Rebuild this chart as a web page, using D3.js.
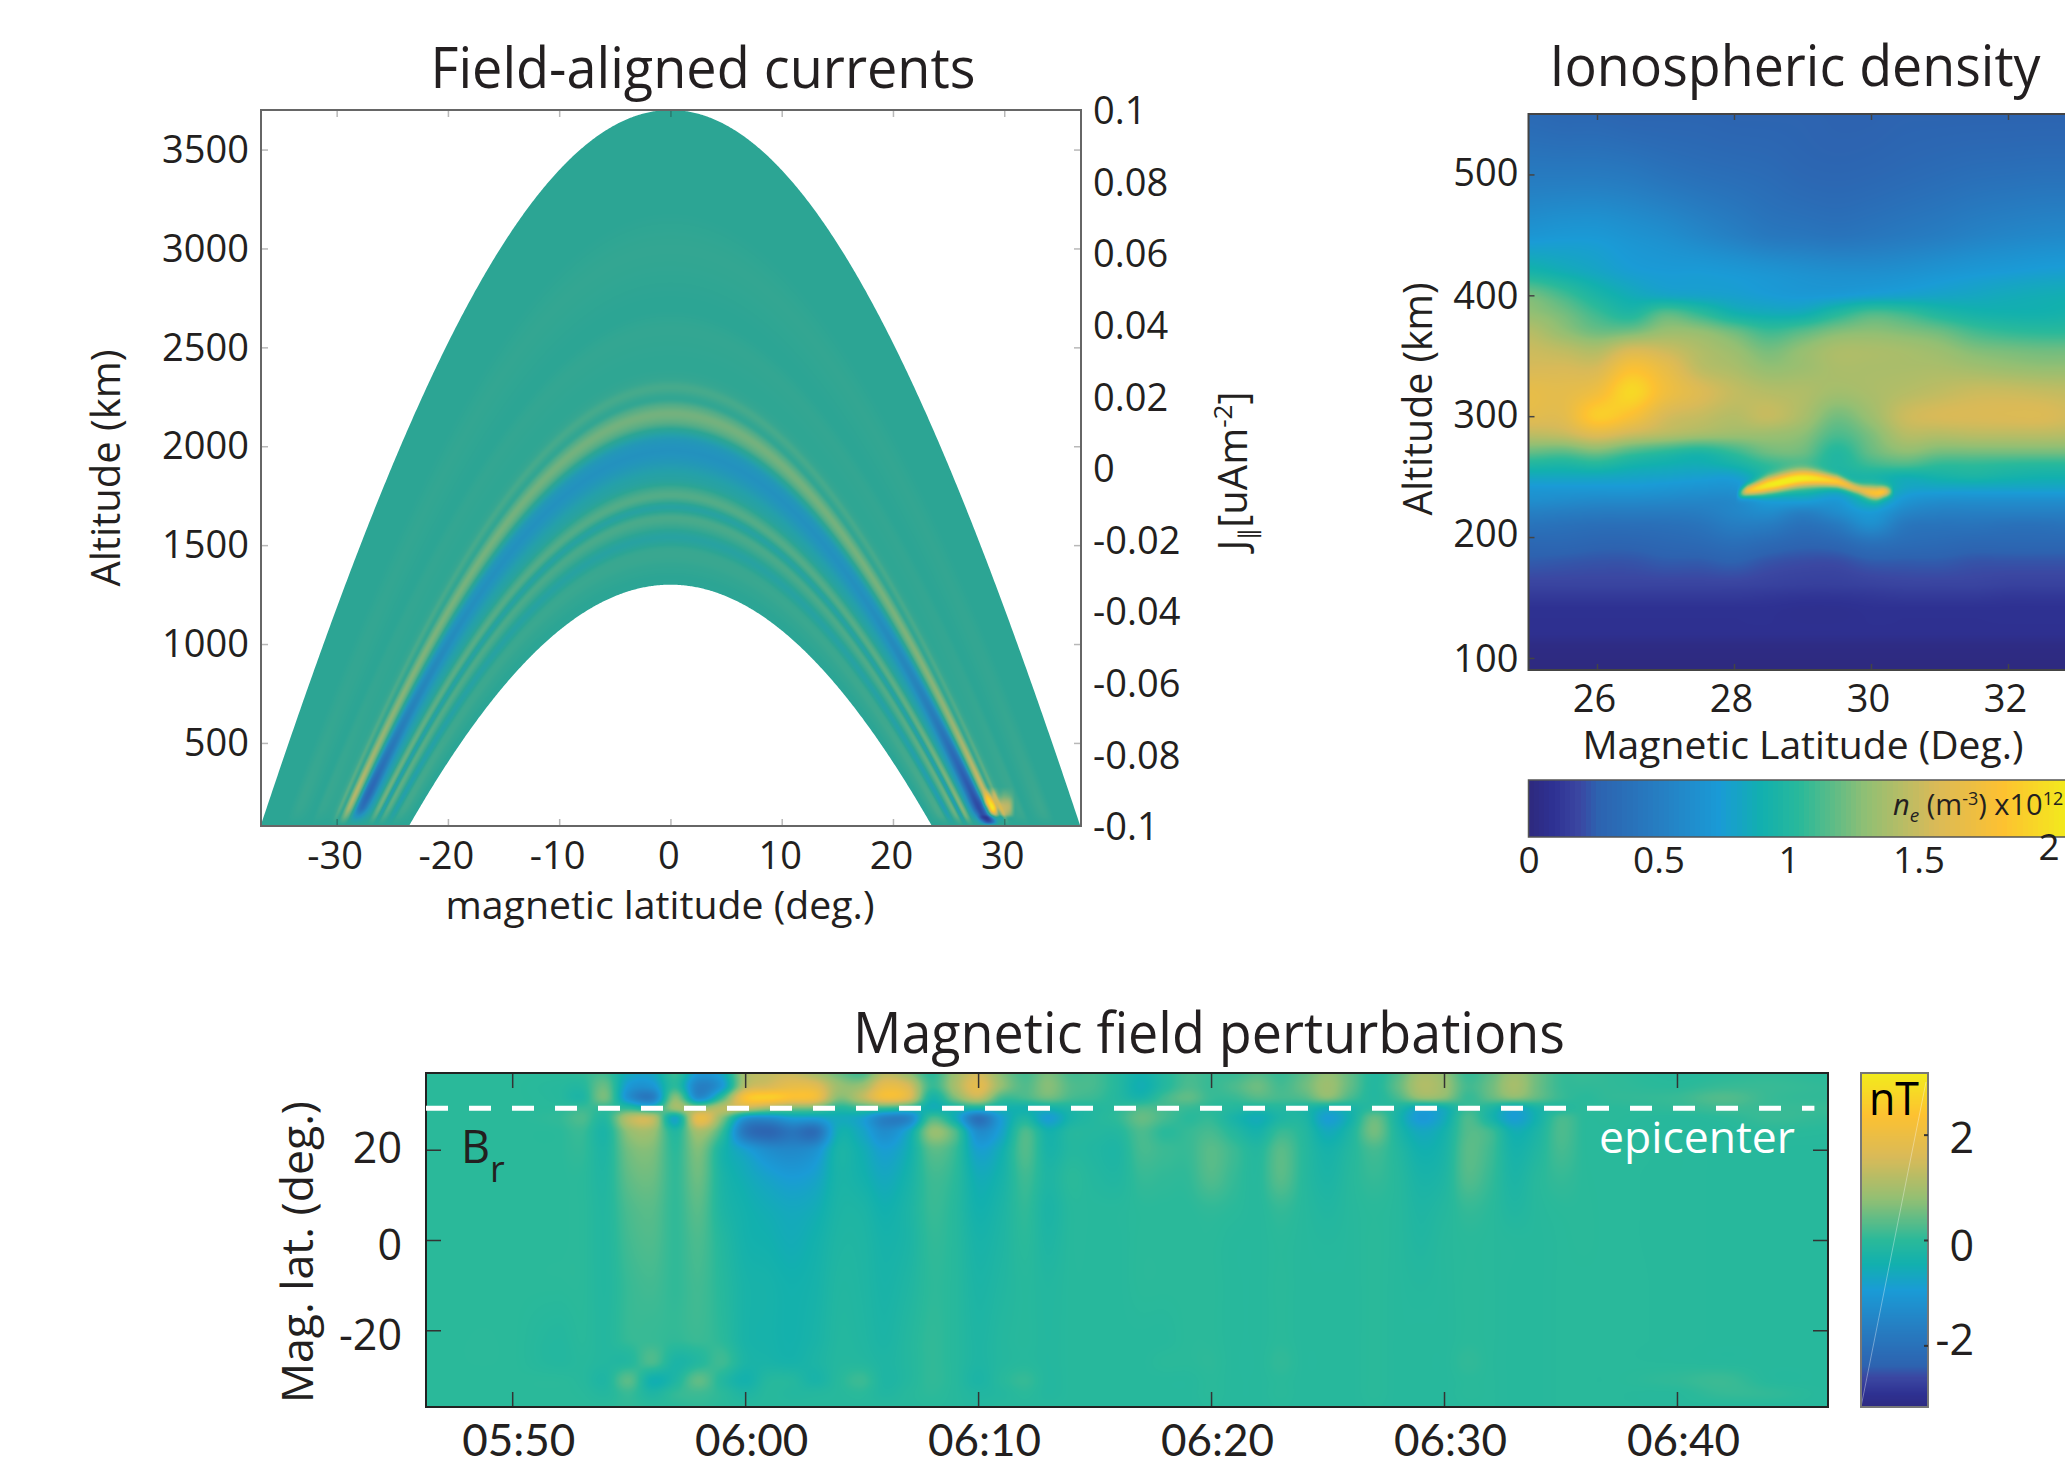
<!DOCTYPE html>
<html>
<head>
<meta charset="utf-8">
<title>Field-aligned currents, ionospheric density, magnetic field perturbations</title>
<script src="https://cdn.jsdelivr.net/npm/d3@7"></script>
<style>
  html, body { margin: 0; padding: 0; background: #fff; overflow: hidden; }
  svg { display: block; }
  text { font-family: "Open Sans", "Noto Sans", sans-serif; fill: #231f20; }
</style>
</head>
<body>
<div id="chart"></div>
<script>
// Field-aligned currents: J along each dipole field line, keyed by its apex height (km)
const jApex = [1300, 1400, 1450, 1490, 1540, 1585, 1636, 1665, 1692, 1722, 1752, 1790, 1830, 1864, 1910, 1960, 1995, 2040, 2080, 2120, 2165, 2205, 2240, 2298, 2340, 2400, 2600, 2700, 3000, 3200, 3700];
const jAtApex = [-0.001, 0.002, 0.004, 0.002, -0.009, 0.002, 0.009, 0.002, -0.009, 0.004, 0.012, 0.005, -0.008, -0.014, -0.024, -0.032, -0.032, -0.024, -0.004, 0.014, 0.022, 0.013, 0.002, 0.008, 0.003, 0.001, 0.002, 0, 0.002, 0, 0];
// how much stronger the bands get going down the field line
const gainAlt = [80, 100, 130, 170, 250, 400, 600, 800, 1200, 1700, 2400];
const gainNorth = [0.1, 0.6, 1.8, 2.3, 2.1, 1.8, 1.45, 1.25, 1.05, 1, 1];
const gainSouth = [0, 0.3, 1.0, 1.6, 1.8, 1.6, 1.35, 1.2, 1.05, 1, 1];
// the patch near the northern foot point (columns are latitude, rows are altitude)
const footLat = [27.5, 28, 28.5, 29, 29.5, 30, 30.5, 31];
const footAlt = [80, 100, 120, 140, 170, 200, 240, 280];
const footJ = [
  [0, 0, 0, 0, 0, 0, 0, 0],
  [0, -0.02, -0.03, -0.01, 0, 0, 0, 0],
  [0, -0.05, -0.05, -0.01, 0.01, 0.03, 0.02, 0],
  [0, -0.05, -0.05, 0, 0.05, 0.05, 0.03, 0],
  [0, -0.02, -0.03, 0.01, 0.035, 0.03, 0.01, 0],
  [0, 0, 0, 0.03, 0.04, 0.035, 0.015, 0],
  [0, 0, 0, 0.025, 0.035, 0.03, 0.01, 0],
  [0, 0, 0, 0, 0, 0, 0, 0]
];
const apexLimits = [1300, 3700];
const jAltTicks = [500, 1000, 1500, 2000, 2500, 3000, 3500];
const jLatTicks = [-30, -20, -10, 0, 10, 20, 30];
const jValueTicks = [0.1, 0.08, 0.06, 0.04, 0.02, 0, -0.02, -0.04, -0.06, -0.08, -0.1];

// Ionospheric density (10^12 m^-3), one row per altitude
const neLat = [25, 25.5, 26, 26.5, 27, 27.5, 28, 28.5, 29, 29.5, 30, 30.5, 31, 31.5, 32, 32.5, 33];
const neAlt = [550, 500, 450, 420, 400, 385, 370, 355, 340, 320, 300, 285, 270, 260, 250, 240, 230, 220, 210, 195, 180, 160, 150, 140, 120, 110, 90];
const neGrid = [
  [.32, .30, .30, .28, .28, .28, .27, .27, .27, .26, .26, .27, .27, .27, .27, .27, .27],
  [.46, .46, .46, .44, .40, .37, .35, .33, .30, .29, .30, .32, .34, .36, .37, .38, .38],
  [.68, .70, .70, .66, .62, .56, .50, .44, .42, .40, .42, .45, .48, .52, .55, .57, .58],
  [.92, .86, .80, .74, .72, .72, .70, .67, .64, .62, .62, .64, .67, .70, .72, .74, .75],
  [1.22, 1.10, .95, .85, .80, .78, .76, .73, .71, .72, .75, .77, .79, .81, .84, .86, .87],
  [1.30, 1.22, 1.08, .98, 1.15, 1.05, .90, .85, .86, 1.00, 1.12, 1.08, .98, .92, .90, .90, .92],
  [1.42, 1.30, 1.20, 1.22, 1.32, 1.30, 1.20, 1.08, 1.15, 1.25, 1.28, 1.25, 1.20, 1.10, 1.05, 1.03, 1.03],
  [1.50, 1.45, 1.40, 1.55, 1.50, 1.40, 1.32, 1.22, 1.30, 1.38, 1.38, 1.36, 1.32, 1.25, 1.22, 1.20, 1.20],
  [1.55, 1.55, 1.55, 1.78, 1.65, 1.45, 1.38, 1.30, 1.33, 1.38, 1.38, 1.38, 1.38, 1.35, 1.32, 1.30, 1.30],
  [1.65, 1.63, 1.72, 1.95, 1.72, 1.58, 1.47, 1.42, 1.40, 1.35, 1.38, 1.42, 1.46, 1.50, 1.50, 1.48, 1.46],
  [1.62, 1.62, 1.88, 1.78, 1.55, 1.48, 1.42, 1.48, 1.38, 1.22, 1.33, 1.50, 1.55, 1.56, 1.57, 1.57, 1.52],
  [1.45, 1.48, 1.60, 1.50, 1.42, 1.36, 1.33, 1.33, 1.28, 1.12, 1.24, 1.42, 1.42, 1.44, 1.44, 1.44, 1.42],
  [1.18, 1.15, 1.22, 1.10, 1.02, .96, 1.06, 1.20, 1.20, 1.00, 1.18, 1.28, 1.22, 1.22, 1.22, 1.22, 1.22],
  [.98, .96, 1.00, .92, .88, .86, .92, 1.05, 1.10, .98, 1.08, 1.12, 1.05, 1.05, 1.03, 1.02, 1.02],
  [.82, .82, .82, .80, .78, .76, .76, .95, 1.05, .95, .95, .88, .92, .95, .92, .90, .90],
  [.70, .70, .70, .70, .68, .66, .66, .80, .95, .85, 1.00, .80, .78, .78, .78, .78, .78],
  [.62, .60, .58, .58, .57, .56, .58, .72, .75, .70, .90, .68, .62, .62, .62, .62, .62],
  [.50, .48, .46, .46, .46, .48, .55, .60, .50, .60, .72, .55, .50, .50, .50, .50, .50],
  [.40, .38, .36, .36, .37, .40, .48, .47, .38, .45, .62, .43, .40, .40, .38, .38, .40],
  [.30, .30, .28, .28, .30, .32, .36, .32, .28, .30, .38, .34, .32, .30, .30, .30, .30],
  [.24, .23, .22, .22, .24, .24, .26, .22, .20, .20, .24, .24, .24, .22, .22, .22, .22],
  [.17, .17, .17, .17, .17, .17, .17, .16, .15, .15, .16, .17, .17, .17, .16, .16, .16],
  [.12, .12, .12, .12, .12, .12, .12, .11, .10, .10, .11, .12, .12, .12, .11, .11, .11],
  [.08, .08, .08, .08, .08, .08, .08, .08, .07, .07, .08, .08, .08, .08, .08, .08, .08],
  [.07, .07, .07, .07, .07, .07, .07, .07, .07, .07, .07, .07, .07, .07, .07, .07, .07],
  [.02, .02, .02, .02, .02, .02, .02, .02, .02, .02, .02, .02, .02, .02, .02, .02, .02],
  [0, 0, 0, 0, 0, 0, 0, 0, 0, 0, 0, 0, 0, 0, 0, 0, 0]
];
// the thin bright layer near 240 km is too narrow for the grid above
const wispLat = [28, 28.2, 28.5, 29, 29.5, 29.8, 30.05, 30.2, 30.4];
const wispAlt = [235, 238.5, 243, 248.5, 246, 240, 236.6, 237.5, 238];
const wispPeak = [0.5, 1.7, 2.05, 2.07, 1.85, 1.6, 1.8, 1.7, 0.5];
const wispThick = [3, 3.5, 4.8, 4.8, 3.5, 3, 3.8, 3.2, 2.5];
const neAltTicks = [100, 200, 300, 400, 500];
const neLatTicks = [26, 28, 30, 32];
const neBarTicks = [0, 0.5, 1, 1.5, 2];

// Magnetic field perturbations Br (nT). brMinutes counts from 05:50, one grid row per minute entry
const brLat = [37, 34, 31.5, 29.2, 27, 24, 20, 14, 7, 0, -10, -22, -27, -31, -34, -37];
const brMinutes = [-3.7, 0, 2, 3, 4, 5, 6, 7, 8, 9, 10, 11, 12, 13, 14, 15, 16, 17, 18, 19, 20, 21, 22, 23, 24, 25, 26, 27, 28, 29, 30, 31, 32, 33, 34, 35, 36, 37, 38, 39, 40, 41, 42, 43, 44, 45, 46, 47, 50, 52, 54, 56.5];
const brGrid = [
  [0, 0, 0, 0, 0, 0, 0, 0, 0, 0, 0, 0, 0, 0, 0, 0],
  [0, 0, 0, 0, 0, 0, 0, 0, 0, 0, 0, 0, 0, 0, 0, 0],
  [0, -.05, -.05, 0, .05, 0, 0, 0, 0, 0, 0, -.1, -.1, 0, 0, 0],
  [.05, -.1, -.2, .1, .25, .1, .05, 0, 0, 0, 0, -.02, -.05, -.05, -.02, 0],
  [.15, .45, .55, .05, -.1, -.25, -.2, -.15, -.12, -.12, -.12, -.1, -.12, -.18, -.1, 0],
  [-.6, -1, -1.2, 0, 1.2, .8, .55, .4, .25, .18, .1, .08, -.1, .35, .1, .05],
  [-.7, -1.1, -1.7, -.3, 1.3, .9, .65, .5, .35, .28, .18, .1, .25, -.45, -.2, 0],
  [.1, 0, .7, .9, -.7, -.15, 0, .05, .05, .05, .05, .05, -.25, -.2, .05, 0],
  [-1, -1.6, -1.3, .8, 1.9, 1, .65, .5, .35, .25, .18, .12, -.1, .4, .15, .05],
  [-.7, -1, .1, 1.2, .7, .1, -.3, -.25, -.2, -.1, -.05, 0, .15, -.1, 0, 0],
  [1, 1.2, 2.3, 1.3, -1.1, -1.9, -.85, -.55, -.42, -.38, -.3, -.3, -.25, -.4, -.2, -.05],
  [1.3, 1.6, 2.6, .9, -1.3, -2.3, -1.3, -.8, -.55, -.45, -.35, -.35, -.3, -.1, -.05, -.05],
  [1.4, 1.9, 2.3, .6, -.9, -1.9, -1.4, -.95, -.65, -.55, -.42, -.4, -.35, -.1, -.1, -.05],
  [1, 1.8, 2.1, .5, -.9, -2.1, -1.2, -.8, -.55, -.42, -.35, -.3, -.25, -.3, -.1, -.05],
  [.5, .9, .7, -.1, -.6, -.5, -.3, -.3, -.25, -.2, -.15, -.12, -.1, -.05, -.05, -.05],
  [.2, .9, 1.2, .1, -.8, -.7, -.5, -.4, -.25, -.2, -.18, -.15, -.1, .12, 0, -.05],
  [1.2, 1.9, 2.1, .1, -1.6, -1.3, -.9, -.65, -.45, -.35, -.3, -.25, -.2, -.2, -.15, -.05],
  [.8, 1.6, 1.7, -.1, -1.5, -.7, -.5, -.35, -.25, -.25, -.18, -.1, -.1, -.1, -.05, -.05],
  [0, .1, -.3, -.5, .2, .8, .35, .15, .1, .05, .02, .05, .05, .05, .02, -.02],
  [.9, 1, .6, -.3, -.5, .3, .1, 0, -.05, -.05, -.05, -.05, -.05, -.05, -.05, -.05],
  [1.5, 1.8, 1.3, -.3, -2, -1.3, -.85, -.55, -.42, -.32, -.25, -.2, -.2, -.25, -.15, -.1],
  [.7, .8, .2, -.4, -.9, -.8, -.5, -.35, -.25, -.2, -.15, -.1, -.1, -.05, -.1, -.05],
  [.2, .3, .2, -.4, -.2, .25, .3, .15, .05, 0, -.05, -.05, -.05, .08, 0, -.05],
  [.6, .7, .5, -.4, -.9, -.4, -.3, -.2, -.25, -.2, -.12, -.1, -.1, -.1, -.1, -.05],
  [.2, .3, .2, -.2, -.3, -.1, -.1, 0, -.05, -.05, -.05, -.05, -.05, -.05, -.05, -.05],
  [.2, .2, .1, -.1, -.1, -.1, -.15, -.1, -.05, -.05, -.05, -.05, -.05, -.05, -.05, -.05],
  [-.1, -.1, -.1, 0, .05, -.1, -.2, -.15, -.05, -.05, -.05, -.05, -.05, -.05, -.05, -.05],
  [-.4, -.5, -.3, .25, .45, .25, .2, .08, 0, 0, 0, -.05, -.05, -.05, -.05, -.05],
  [-.1, -.1, .15, .2, .2, 0, .12, .05, 0, 0, 0, -.05, 0, -.05, -.05, -.05],
  [.2, .25, .4, .1, 0, .08, .1, .05, 0, 0, 0, 0, 0, -.05, -.05, -.05],
  [.1, .1, .1, 0, .05, .2, .35, .3, .05, 0, 0, 0, .02, 0, 0, -.02],
  [.1, .25, .1, -.1, -.3, -.1, .12, .08, 0, -.05, -.05, -.05, -.05, -.05, -.05, -.05],
  [.3, .5, .3, -.2, -.55, -.35, -.1, -.05, -.05, -.05, -.05, -.05, -.05, -.05, -.05, -.05],
  [.1, .2, .2, -.1, -.2, .1, .35, .35, .08, 0, 0, 0, .05, 0, 0, -.02],
  [.4, .5, .3, -.2, -.2, -.1, -.05, -.05, -.05, -.05, -.05, -.05, -.05, -.05, -.05, -.05],
  [.8, .9, .7, -.5, -.9, -.6, -.35, -.25, -.15, -.08, -.05, -.05, -.05, -.05, -.05, -.05],
  [.4, .4, .2, -.3, -.4, -.2, -.1, -.05, -.05, -.05, -.05, -.05, -.05, -.05, -.05, -.05],
  [-.1, -.1, -.1, 0, .45, .55, .2, .08, 0, 0, 0, 0, 0, 0, 0, -.02],
  [.3, .4, .2, -.2, -.3, -.2, -.1, -.05, -.05, -.05, -.05, -.05, -.05, -.05, -.05, -.05],
  [1, 1.1, .8, -.7, -1, -.65, -.45, -.3, -.2, -.15, -.08, -.05, -.05, -.05, -.05, -.05],
  [.8, .9, .7, -.5, -.6, -.4, -.3, -.2, -.1, -.05, -.05, -.05, -.05, -.05, -.05, -.05],
  [.1, .2, .1, .1, .25, .3, .35, .3, .08, 0, 0, 0, .05, 0, 0, -.02],
  [.4, .5, .4, -.2, -.3, .15, .15, .08, 0, -.02, -.02, -.02, -.02, -.02, -.02, -.02],
  [.9, 1, .7, -.7, -.9, -.5, -.35, -.25, -.15, -.05, -.05, -.05, -.05, -.05, -.05, -.05],
  [.5, .5, .4, -.3, -.4, -.25, -.15, -.05, -.05, -.05, -.05, -.05, -.05, -.05, -.05, -.05],
  [.1, .1, .1, -.1, .2, .25, .2, .08, 0, -.02, -.02, -.02, -.02, -.02, -.02, -.02],
  [.1, .05, 0, 0, 0, 0, 0, 0, 0, 0, -.02, -.02, -.02, -.02, -.02, -.02],
  [.05, .05, .05, 0, 0, -.02, -.02, -.02, -.02, -.02, -.02, -.02, -.02, -.02, -.02, -.02],
  [-.05, 0, .1, .05, -.05, -.05, -.03, -.03, -.03, -.03, -.03, -.03, -.03, .05, -.03, -.03],
  [0, .1, .3, .15, 0, -.05, -.05, -.05, -.05, -.05, -.05, -.05, -.05, .12, .08, -.05],
  [.05, .1, .1, .1, .1, 0, -.05, -.05, -.05, -.05, -.05, -.05, -.05, -.05, .05, -.05],
  [0, .05, .05, .1, .05, -.02, -.05, -.05, -.05, -.05, -.05, -.05, -.05, -.05, -.05, -.05]
];
const brLatTicks = [-20, 0, 20];
const brBarTicks = [-2, 0, 2];
const epicenterLat = 29.2;

// Colormaps (parula as it looks in the printed figure)
const parulaStops = [0, 0.04, 0.09, 0.125, 0.25, 0.35, 0.43, 0.5, 0.625, 0.75, 0.875, 1];
const parulaColors = ['#2e2a80', '#2e3192', '#3b47a2', '#2d63b0', '#2581c4', '#1a9bd6', '#12b0ae', '#2ab99a', '#93bf73', '#d9ba58', '#fdc131', '#f2ec1c'];
const currentStops = [0, 0.1, 0.2, 0.34, 0.42, 0.5, 0.6, 0.72, 0.85, 1];
const currentColors = ['#2b2a84', '#2f45a0', '#2c66b5', '#2393be', '#24a0aa', '#2ca594', '#6cb180', '#c3b766', '#f9bf32', '#f5e81e'];

const WIDTH = 2065;
const HEIGHT = 1466;
const EARTH_RADIUS = 6371;
const TICK_FONT = 38;

const svg = d3.select('#chart').append('svg')
  .attr('width', WIDTH)
  .attr('height', HEIGHT);

/**
 * Lookup table from a 0-1 value to rgb, faster than asking a scale per pixel
 */
function makeLut (stops, colors) {
  const scale = d3.scaleLinear().domain(stops).range(colors).clamp(true);
  return d3.range(1024).map(i => {
    const c = d3.rgb(scale(i / 1023));
    return [c.r, c.g, c.b];
  });
}

function catmull (p0, p1, p2, p3, s) {
  return 0.5 * (2 * p1 + (p2 - p0) * s + (2 * p0 - 5 * p1 + 4 * p2 - p3) * s * s + (3 * p1 - p0 - 3 * p2 + p3) * s * s * s);
}

// smooth read-out of an array, same idea as "shading interp" in the original figure
function curveSampler (xs, vals) {
  const index = d3.scaleLinear().domain(xs).range(d3.range(xs.length)).clamp(true);
  const last = xs.length - 1;
  return x => {
    const f = index(x);
    const i = Math.min(Math.floor(f), last - 1);
    return catmull(vals[Math.max(i - 1, 0)], vals[i], vals[i + 1], vals[Math.min(i + 2, last)], f - i);
  };
}

// same thing in two directions, grid[a][b] with a along as and b along bs
function gridSampler (as, bs, grid) {
  const aIndex = d3.scaleLinear().domain(as).range(d3.range(as.length)).clamp(true);
  const bIndex = d3.scaleLinear().domain(bs).range(d3.range(bs.length)).clamp(true);
  const aLast = as.length - 1;
  const bLast = bs.length - 1;
  return (a, b) => {
    const fa = aIndex(a);
    const fb = bIndex(b);
    const ia = Math.min(Math.floor(fa), aLast - 1);
    const ib = Math.min(Math.floor(fb), bLast - 1);
    const read = row => catmull(row[Math.max(ib - 1, 0)], row[ib], row[ib + 1], row[Math.min(ib + 2, bLast)], fb - ib);
    return catmull(
      read(grid[Math.max(ia - 1, 0)]),
      read(grid[ia]),
      read(grid[ia + 1]),
      read(grid[Math.min(ia + 2, aLast)]),
      fa - ia);
  };
}

/**
 * Paint a field into a canvas and put it in the svg as an image.
 * xVals and yVals hold the data coordinate of each pixel column and row.
 */
function addField (parent, left, top, xVals, yVals, valueAt, toUnit, lut) {
  const canvas = document.createElement('canvas');
  canvas.width = xVals.length;
  canvas.height = yVals.length;
  const ctx = canvas.getContext('2d');
  const img = ctx.createImageData(canvas.width, canvas.height);
  let k = 0;
  yVals.forEach(yv => {
    xVals.forEach(xv => {
      const idx = Math.max(0, Math.min(1023, Math.round(toUnit(valueAt(xv, yv)) * 1023)));
      const c = lut[idx];
      img.data[k] = c[0];
      img.data[k + 1] = c[1];
      img.data[k + 2] = c[2];
      img.data[k + 3] = 255;
      k += 4;
    });
  });
  ctx.putImageData(img, 0, 0);
  return parent.append('image')
    .attr('x', left)
    .attr('y', top)
    .attr('width', canvas.width)
    .attr('height', canvas.height)
    .attr('href', canvas.toDataURL());
}

function pixelValues (scale, from, to) {
  return d3.range(from, to).map(p => +scale.invert(p + 0.5));
}

function addText (parent, str, x, y, size, opts = {}) {
  const t = parent.append('text')
    .attr('x', x)
    .attr('y', y)
    .attr('font-size', size)
    .attr('text-anchor', opts.anchor || 'middle')
    .text(str);
  if (opts.length) {
    t.attr('textLength', opts.length).attr('lengthAdjust', 'spacingAndGlyphs');
  }
  if (opts.rotate) {
    t.attr('transform', `rotate(${opts.rotate} ${x} ${y})`);
  }
  if (opts.fill) {
    t.style('fill', opts.fill);
  }
  return t;
}

/**
 * Box axes in the MATLAB way: ticks inside on all four sides, labels on left and bottom.
 */
function addBoxAxes (parent, x, y, o) {
  const [x0, x1] = x.range();
  const [y1, y0] = y.range();
  const w = x1 - x0;
  const h = y1 - y0;
  const tick = o.tick;
  const labelled = (sel, axis) => sel.call(axis).call(g => g.select('.domain').remove());

  const bottom = parent.append('g').attr('transform', `translate(0,${y1})`);
  labelled(bottom, d3.axisBottom(x).tickValues(o.xTicks).tickSize(-tick).tickFormat(o.xFormat || String));
  bottom.selectAll('text')
    .attr('y', o.xLabelBaseline)
    .attr('dx', o.xLabelShift || 0)
    .attr('dy', 0)
    .attr('font-size', o.xFont || o.font)
    .style('font-family', o.xFamily || '"Open Sans", sans-serif');

  const top = parent.append('g').attr('transform', `translate(0,${y0})`);
  labelled(top, d3.axisTop(x).tickValues(o.xTicks).tickSize(-tick).tickFormat(''));

  const left = parent.append('g').attr('transform', `translate(${x0},0)`);
  labelled(left, d3.axisLeft(y).tickValues(o.yTicks).tickSize(-tick).tickFormat(String));
  left.selectAll('text')
    .attr('x', -o.yLabelGap)
    .attr('y', o.yShift || 0)
    .attr('dy', '0.36em')
    .attr('font-size', o.font)
    .style('font-family', '"Open Sans", sans-serif');

  const right = parent.append('g').attr('transform', `translate(${x1},0)`);
  labelled(right, d3.axisRight(y).tickValues(o.yTicks).tickSize(-tick).tickFormat(''));

  parent.selectAll('.tick line')
    .attr('stroke', o.tickColor)
    .attr('stroke-width', o.tickWidth || 1.5);

  parent.append('rect')
    .attr('x', x0)
    .attr('y', y0)
    .attr('width', w)
    .attr('height', h)
    .attr('fill', 'none')
    .attr('stroke', o.frame)
    .attr('stroke-width', o.frameWidth || 2);
}

// altitude on the dipole field line with apex height h, at latitude lat (deg)
function fieldLineAlt (h, lat) {
  const c = Math.cos(lat * Math.PI / 180);
  return (EARTH_RADIUS + h) * c * c - EARTH_RADIUS;
}

function apexOf (lat, alt) {
  const c = Math.cos(lat * Math.PI / 180);
  return (EARTH_RADIUS + alt) / (c * c) - EARTH_RADIUS;
}

/* ---------- Field-aligned currents ---------- */
function drawCurrents () {
  const g = svg.append('g');
  const x = d3.scaleLinear().domain([-36.8, 36.9]).range([261, 1081]);
  const y = d3.scaleLinear().domain([80, 3700]).range([826, 110]);
  const jScale = d3.scaleLinear().domain([-0.1, 0.1]).range([826, 110]);
  const toUnit = d3.scaleLinear().domain([-0.1, 0.1]).range([0, 1]);

  const profile = curveSampler(jApex, jAtApex);
  const north = curveSampler(gainAlt, gainNorth);
  const south = curveSampler(gainAlt, gainSouth);
  const foot = gridSampler(footLat, footAlt, footJ);

  const value = (lat, alt) => {
    const gain = lat > 0 ? north(alt) : south(alt);
    let j = profile(apexOf(lat, alt)) * gain;
    if (lat > footLat[0] && lat < footLat[footLat.length - 1] && alt < footAlt[footAlt.length - 1]) {
      j += foot(lat, alt);
    }
    return j;
  };

  const clipLats = d3.range(-36.9, 37, 0.1);
  const clip = d3.area()
    .x(d => x(d))
    .y0(d => y(Math.max(80, fieldLineAlt(apexLimits[0], d))))
    .y1(d => y(Math.max(80, fieldLineAlt(apexLimits[1], d))));
  svg.append('clipPath').attr('id', 'shell').append('path').attr('d', clip(clipLats));

  addField(g, 261, 110, pixelValues(x, 261, 1081), pixelValues(y, 110, 826), value, toUnit, makeLut(currentStops, currentColors))
    .attr('clip-path', 'url(#shell)');

  addBoxAxes(g, x, y, {
    xTicks: jLatTicks,
    yTicks: jAltTicks,
    font: TICK_FONT,
    tick: 7,
    tickColor: 'rgba(35,35,35,0.32)',
    frame: '#666',
    xLabelBaseline: 43,
    xLabelShift: -2,
    yLabelGap: 12,
    yShift: -1
  });

  // the colour values are listed on the right, without tick marks
  const rightAxis = g.append('g').attr('transform', 'translate(1081,0)');
  rightAxis.call(d3.axisRight(jScale).tickValues(jValueTicks).tickSize(0).tickPadding(12).tickFormat(String));
  rightAxis.select('.domain').remove();
  rightAxis.selectAll('text').attr('font-size', TICK_FONT).attr('dy', '0.36em').style('font-family', '"Open Sans", sans-serif');

  addText(g, 'Field-aligned currents', 703, 88, 56, { length: 545 });
  addText(g, 'magnetic latitude (deg.)', 660, 919, 39, { length: 429 });
  addText(g, 'Altitude (km)', 120, 468, 40, { rotate: -90, length: 237 });

  const jLabel = addText(g, 'J', 1247, 471, 40, { rotate: -90 });
  jLabel.append('tspan').attr('dy', 9).attr('font-size', 24).text('∥');
  jLabel.append('tspan').attr('dy', -9).text('[uAm');
  jLabel.append('tspan').attr('dy', -15).attr('font-size', 26).text('-2');
  jLabel.append('tspan').attr('dy', 15).text(']');
}

/* ---------- Ionospheric density ---------- */
function drawDensity () {
  const g = svg.append('g');
  const x = d3.scaleLinear().domain([25, 33]).range([1528.5, 2076.5]);
  const y = d3.scaleLinear().domain([90, 550]).range([670, 114]);
  const barX = d3.scaleLinear().domain([0, 2.07]).range([1528.5, 2066.7]);
  const toUnit = d3.scaleLinear().domain([0, 2.07]).range([0, 1]);
  const lut = makeLut(parulaStops, parulaColors);

  const base = gridSampler(neAlt, neLat, neGrid);
  const ridgeAlt = curveSampler(wispLat, wispAlt);
  const ridgePeak = curveSampler(wispLat, wispPeak);
  const ridgeThick = curveSampler(wispLat, wispThick);

  const value = (lat, alt) => {
    const v = base(alt, lat);
    if (lat < wispLat[0] || lat > wispLat[wispLat.length - 1]) return v;
    const d = (alt - ridgeAlt(lat)) / ridgeThick(lat);
    return Math.max(v, v + (ridgePeak(lat) - v) * Math.exp(-0.5 * d * d));
  };

  addField(g, 1528, 114, pixelValues(x, 1528, WIDTH), pixelValues(y, 114, 670), value, toUnit, lut);

  addBoxAxes(g, x, y, {
    xTicks: neLatTicks,
    yTicks: neAltTicks,
    font: TICK_FONT,
    tick: 6,
    tickColor: '#444',
    frame: '#444',
    xLabelBaseline: 42,
    xLabelShift: -3,
    yLabelGap: 10,
    yShift: d => (d === 500 ? -3 : d === 200 ? -4 : d === 300 ? -2 : 0)
  });

  // colorbar
  const barCells = d3.range(0, 2.07, 0.02);
  g.append('g').selectAll('rect')
    .data(barCells)
    .join('rect')
    .attr('x', d => barX(d))
    .attr('y', 780)
    .attr('width', barX(0.02) - barX(0) + 1)
    .attr('height', 57)
    .attr('shape-rendering', 'crispEdges')
    .attr('fill', d => d3.rgb(...lut[Math.round(toUnit(d) * 1023)]).formatHex());
  g.append('rect')
    .attr('x', 1528.5)
    .attr('y', 780)
    .attr('width', 560)
    .attr('height', 57)
    .attr('fill', 'none')
    .attr('stroke', '#555')
    .attr('stroke-width', 1.5);

  const barAxis = g.append('g').attr('transform', 'translate(0,837)');
  barAxis.call(d3.axisBottom(barX).tickValues(neBarTicks).tickSize(0).tickFormat(String));
  barAxis.select('.domain').remove();
  barAxis.selectAll('text')
    .attr('y', d => (d === 2 ? 23 : 36))
    .attr('dy', 0)
    .attr('font-size', 37)
    .style('font-family', '"Open Sans", sans-serif');

  addText(g, 'Ionospheric density', 1795, 86, 56, { length: 491 });
  addText(g, 'Magnetic Latitude (Deg.)', 1803, 759, 38, { length: 441 });
  addText(g, 'Altitude (km)', 1432, 399, 40, { rotate: -90, length: 233 });

  const barLabel = addText(g, 'n', 1893, 815, 29, { anchor: 'start' }).attr('font-style', 'italic');
  barLabel.append('tspan').attr('dy', 7).attr('font-size', 19).text('e');
  barLabel.append('tspan').attr('dy', -7).attr('font-style', 'normal').text(' (m');
  barLabel.append('tspan').attr('dy', -10).attr('font-style', 'normal').attr('font-size', 18).text('-3');
  barLabel.append('tspan').attr('dy', 10).attr('font-style', 'normal').text(') x10');
  barLabel.append('tspan').attr('dy', -10).attr('font-style', 'normal').attr('font-size', 18).text('12');
}

/* ---------- Magnetic field perturbations ---------- */
function drawPerturbations () {
  const g = svg.append('g');
  const parse = d3.timeParse('%H:%M:%S');
  const t0 = parse('05:50:00');
  const x = d3.scaleTime().domain([parse('05:46:18'), parse('06:46:29')]).range([426, 1828]);
  const y = d3.scaleLinear().domain([-37, 37]).range([1407, 1073]);
  const barY = d3.scaleLinear().domain([-3.17, 3.17]).range([1407, 1073]);
  const toUnit = d3.scaleLinear().domain([-3.17, 3.17]).range([0, 1]);
  const lut = makeLut(parulaStops, parulaColors);

  const value = gridSampler(brMinutes, brLat, brGrid);
  const xVals = pixelValues(x, 426, 1828).map(d => (d - t0) / 60000);

  addField(g, 426, 1073, xVals, pixelValues(y, 1073, 1407), value, toUnit, lut);

  addBoxAxes(g, x, y, {
    xTicks: d3.timeMinute.every(10).range(parse('05:50:00'), parse('06:41:00')),
    xFormat: d3.timeFormat('%H:%M'),
    yTicks: brLatTicks,
    font: 43,
    xFont: 44,
    xFamily: 'Lato, "Open Sans", sans-serif',
    tick: 15,
    tickColor: '#333',
    frame: '#222',
    xLabelBaseline: 49,
    xLabelShift: 6,
    yLabelGap: 24,
    yShift: d => (d === 20 ? -3 : 4)
  });

  // epicenter line
  const lineEnd = new Date(+t0 + 55.9 * 60000);
  g.append('line')
    .attr('x1', x.range()[0])
    .attr('x2', x(lineEnd))
    .attr('y1', y(epicenterLat))
    .attr('y2', y(epicenterLat))
    .attr('stroke', '#fff')
    .attr('stroke-width', 5)
    .attr('stroke-dasharray', '22 21');

  addText(g, 'epicenter', 1697, 1153, 44, { length: 196, fill: '#fff' });
  addText(g, 'B', 461, 1163, 45, { anchor: 'start' });
  addText(g, 'r', 490, 1182, 36, { anchor: 'start' });

  // colorbar
  const barCells = d3.range(-3.17, 3.17, 0.02);
  g.append('g').selectAll('rect')
    .data(barCells)
    .join('rect')
    .attr('x', 1861)
    .attr('y', d => barY(d + 0.02))
    .attr('width', 67)
    .attr('height', barY(0) - barY(0.02) + 1)
    .attr('shape-rendering', 'crispEdges')
    .attr('fill', d => d3.rgb(...lut[Math.round(toUnit(d) * 1023)]).formatHex());
  // thin diagonal seam that runs through the printed colorbar
  g.append('line')
    .attr('x1', 1861)
    .attr('y1', barY(-3.17))
    .attr('x2', 1926)
    .attr('y2', barY(3))
    .attr('stroke', '#fff')
    .attr('stroke-opacity', 0.35);
  g.append('rect')
    .attr('x', 1861)
    .attr('y', 1073)
    .attr('width', 67)
    .attr('height', 334)
    .attr('fill', 'none')
    .attr('stroke', '#777')
    .attr('stroke-width', 2);

  const barAxis = g.append('g').attr('transform', 'translate(1928,0)');
  barAxis.call(d3.axisRight(barY).tickValues(brBarTicks).tickSize(-4).tickFormat(String));
  barAxis.select('.domain').remove();
  barAxis.selectAll('line').attr('stroke', '#333').attr('stroke-width', 2);
  barAxis.selectAll('text')
    .attr('x', 46)
    .attr('y', d => (d === 2 ? 2 : d === 0 ? 5 : -6))
    .attr('text-anchor', 'end')
    .attr('dy', '0.36em')
    .attr('font-size', 43)
    .style('font-family', '"Open Sans", sans-serif');
  addText(g, 'nT', 1894, 1115, 45, { length: 50 }).style('fill', '#000');

  addText(g, 'Magnetic field perturbations', 1209, 1053, 56, { length: 712 });
  addText(g, 'Mag. lat. (deg.)', 313, 1252, 43, { rotate: -90, length: 302 });
}

drawCurrents();
drawDensity();
drawPerturbations();
</script>
</body>
</html>
